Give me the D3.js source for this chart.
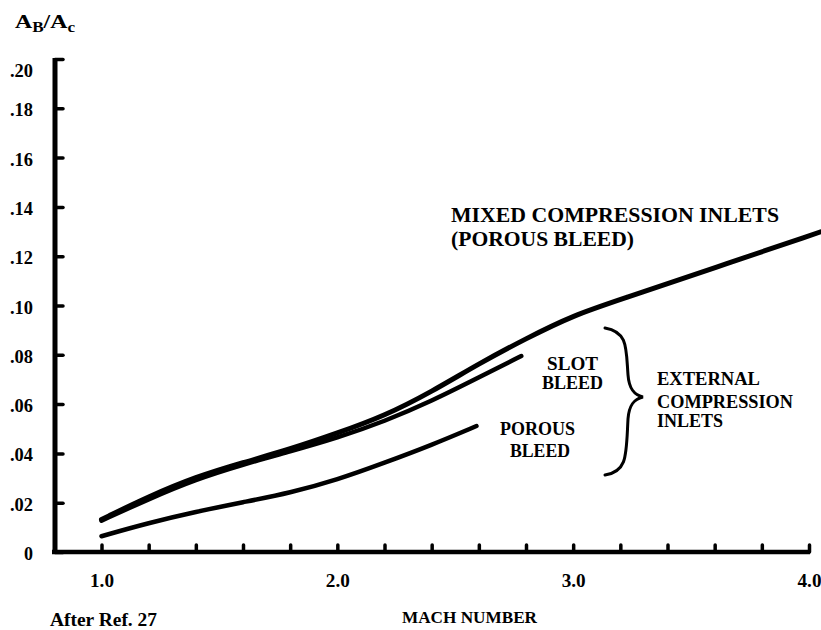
<!DOCTYPE html>
<html><head><meta charset="utf-8">
<script src="https://cdn.jsdelivr.net/npm/d3@7"></script>
<style>
body{margin:0;background:#fff}
svg{display:block;background:#fff}
text{font-family:"Liberation Serif","Times New Roman",serif;font-weight:bold;fill:#000}
</style></head><body>
<svg id="c" width="821" height="630"></svg>
<script>
// ---- data ----
const mixedMach  = [1.0, 1.2, 1.4, 1.6, 1.8, 2.0, 2.2, 2.4, 2.6, 2.8, 3.0, 3.2, 3.6, 4.05];
const mixedVal   = [0.0132, 0.0225, 0.0305, 0.0363, 0.0417, 0.0482, 0.0552, 0.0650, 0.0764, 0.0866, 0.0960, 0.1024, 0.1153, 0.1299];
const slotMach   = [1.0, 1.2, 1.4, 1.6, 1.8, 2.0, 2.2, 2.4, 2.6, 2.78];
const slotVal    = [0.0127, 0.0215, 0.0295, 0.0355, 0.0408, 0.0463, 0.0530, 0.0612, 0.0708, 0.0795];
const porousMach = [1.0, 1.2, 1.4, 1.6, 1.8, 2.0, 2.2, 2.4, 2.59];
const porousVal  = [0.0064, 0.0118, 0.0163, 0.0202, 0.0240, 0.0293, 0.0362, 0.0434, 0.0511];
const xTickValues = [1.0,1.2,1.4,1.6,1.8,2.0,2.2,2.4,2.6,2.8,3.0,3.2,3.4,3.6,3.8,4.0];
const xTickLabels = {"1":"1.0","2":"2.0","3":"3.0","4":"4.0"};
const yTickValues = [0,0.02,0.04,0.06,0.08,0.10,0.12,0.14,0.16,0.18,0.20];
const yTickLabels = ["0",".02",".04",".06",".08",".10",".12",".14",".16",".18",".20"];

// ---- layout ----
const svg = d3.select("#c");
const x = d3.scaleLinear().domain([1,4]).range([101.5,809]);
const y = d3.scaleLinear().domain([0,0.2]).range([552,59]);
const axisLeftX = 55;

// y axis
const yAxis = d3.axisLeft(y).tickValues(yTickValues)
  .tickFormat((d,i)=>yTickLabels[i]).tickSizeInner(-8).tickSizeOuter(0).tickPadding(22);
const gy = svg.append("g").attr("transform",`translate(${axisLeftX},0)`).call(yAxis);
gy.select(".domain").remove();
gy.selectAll(".tick line").attr("stroke","#000").attr("stroke-width",3.5).attr("stroke-linecap","round");
gy.selectAll(".tick text").attr("font-size",18).attr("font-family","Liberation Serif").attr("font-weight","bold")
  .attr("textLength",(d)=> d===0 ? 9 : 23).attr("lengthAdjust","spacingAndGlyphs")
  .attr("dy",(d)=> d===0.20 ? "0.95em" : "0.42em");
gy.append("line").attr("x1",0).attr("x2",0).attr("y1",y(0.2)-1).attr("y2",y(0)+2)
  .attr("stroke","#000").attr("stroke-width",5);

// x axis
const xAxis = d3.axisBottom(x).tickValues(xTickValues)
  .tickFormat(d=>xTickLabels[String(Math.round(d*10)/10)] || "").tickSizeInner(-7).tickSizeOuter(0).tickPadding(22);
const gx = svg.append("g").attr("transform",`translate(0,${y(0)})`).call(xAxis);
gx.select(".domain").remove();
gx.selectAll(".tick line").attr("stroke","#000").attr("stroke-width",3.5).attr("stroke-linecap","round");
gx.selectAll(".tick text").attr("font-size",18).attr("font-family","Liberation Serif").attr("font-weight","bold")
  .filter(function(){return this.textContent!=="";}).attr("textLength",24).attr("lengthAdjust","spacingAndGlyphs");
gx.append("line").attr("x1",axisLeftX-3).attr("x2",x(4)+1).attr("y1",0).attr("y2",0)
  .attr("stroke","#000").attr("stroke-width",4.5);

// curves
const line = d3.line().x(d=>x(d[0])).y(d=>y(d[1])).curve(d3.curveBasis);
function draw(m,v,w){
  svg.append("path").datum(m.map((d,i)=>[d,v[i]])).attr("d",line)
    .attr("fill","none").attr("stroke","#000").attr("stroke-width",w).attr("stroke-linecap","round");
}
draw(porousMach,porousVal,4.5);
draw(slotMach,slotVal,4.5);
draw(mixedMach,mixedVal,5);

// brace
const bx = x(3.135), by0 = y(0.0909), by1 = y(0.0312), cx = x(3.296), cy = y(0.0629);
const bm = bx+23;
svg.append("path").attr("fill","none").attr("stroke","#000").attr("stroke-width",3).attr("stroke-linecap","round")
  .attr("d",`M${bx},${by0} C${bm},${by0+4} ${bm-2},${by0+20} ${bm},${cy-22} C${bm+1},${cy-8} ${bm+6},${cy-2} ${cx},${cy}
             C${bm+6},${cy+2} ${bm+1},${cy+8} ${bm},${cy+22} C${bm-2},${by1-20} ${bm},${by1-4} ${bx},${by1}`);

// labels
function txt(t,xx,yy,size,len,anchor){
  return svg.append("text").attr("x",xx).attr("y",yy).attr("font-size",size)
    .attr("text-anchor",anchor||"start").attr("textLength",len).attr("lengthAdjust","spacingAndGlyphs").text(t);
}
const yl = svg.append("text").attr("x",15).attr("y",28).attr("font-size",19.5)
  .attr("textLength",60).attr("lengthAdjust","spacingAndGlyphs");
yl.append("tspan").text("A");
yl.append("tspan").attr("font-size",14).attr("dy",4).text("B");
yl.append("tspan").attr("dy",-4).text("/A");
yl.append("tspan").attr("font-size",14).attr("dy",4).text("c");

txt("MIXED COMPRESSION INLETS",451,222,20,328);
txt("(POROUS BLEED)",451,246,20,183);
txt("SLOT",572.5,370,18.5,51,"middle");
txt("BLEED",572.5,389,18.5,61,"middle");
txt("POROUS",537.5,435,18.5,75,"middle");
txt("BLEED",540,456.5,18.5,60,"middle");
txt("EXTERNAL",657,385,18.5,103);
txt("COMPRESSION",657,408,18.5,136);
txt("INLETS",657,427,18.5,66);
txt("MACH NUMBER",402,623,17.5,135);
txt("After Ref. 27",50,626,18,107);
</script></body></html>
